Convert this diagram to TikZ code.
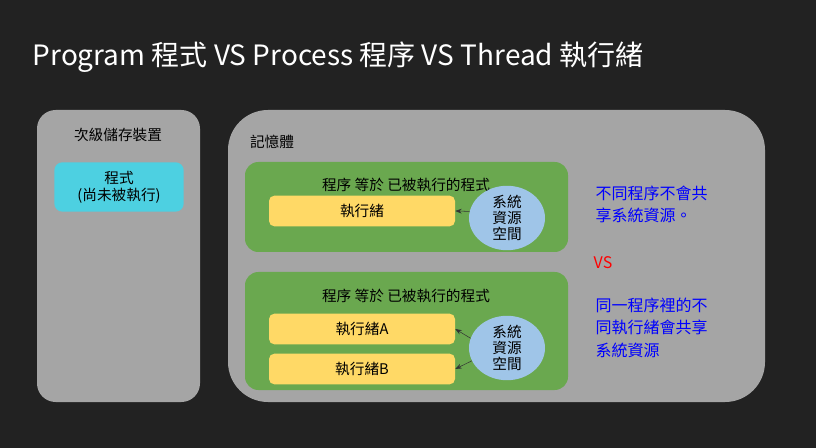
\documentclass[tikz,border=0pt]{standalone}
\usepackage{fontspec}
\setmainfont{Noto Sans CJK TC}
\usetikzlibrary{arrows.meta,shapes.geometric}
\definecolor{bgdark}{HTML}{222222}
\definecolor{panelgray}{HTML}{A5A5A5}
\definecolor{procgreen}{HTML}{6AA84F}
\definecolor{threadyellow}{HTML}{FFD966}
\definecolor{progcyan}{HTML}{4DD0E1}
\definecolor{resblue}{HTML}{9FC5E8}
\tikzset{
  panel/.style={fill=panelgray,rounded corners=14pt},
  procbox/.style={fill=procgreen,rounded corners=10pt},
  thread/.style={rectangle,fill=threadyellow,rounded corners=4pt,minimum width=139.5pt,minimum height=23pt,font=\fontsize{11}{13}\selectfont},
  res/.style={ellipse,fill=resblue,minimum width=57pt,minimum height=39pt,inner sep=0pt,align=center,font=\fontsize{11}{12}\selectfont},
  lbl/.style={font=\fontsize{11}{13}\selectfont},
  note/.style={text=blue,align=left,anchor=north west,font=\fontsize{12}{17}\selectfont},
  arrow/.style={-Stealth,black!80,thin}
}
\begin{document}
\begin{tikzpicture}[x=0.75pt,y=-0.75pt]
    \fill[bgdark] (0,0) rectangle (816,448);
    \useasboundingbox (0,0) rectangle (816,448);
    \node[anchor=west,text=white,font=\fontsize{21}{24}\selectfont] (title) at (28,57) {Program 程式 VS Process 程序 VS Thread 執行緒};

    % secondary storage
    \fill[panel] (37,110) rectangle (200,402);
    \node[lbl] (storage) at (118,135) {次級儲存裝置};
    \node[fill=progcyan,rounded corners=6pt,minimum width=97pt,minimum height=37pt,align=center,lbl] (program) at (119,187) {程式\\(尚未被執行)};

    % memory
    \fill[panel,rounded corners=30pt] (228,110) rectangle (765,402);
    \node[lbl] (memory) at (272,142) {記憶體};

    \fill[procgreen,rounded corners=10pt] (245,162) rectangle (568,252);
    \node[lbl] (procA) at (406,185) {程序 等於 已被執行的程式};
    \node[thread] (thr) at (362,211) {執行緒};
    \node[res] (resA) at (507,218) {系統\\資源\\空間};
    \draw[arrow] (resA.170) -- (thr.east);

    \fill[procgreen,rounded corners=10pt] (245,272) rectangle (568,390);
    \node[lbl] (procB) at (406,296) {程序 等於 已被執行的程式};
    \node[thread] (thrA) at (362,329) {執行緒A};
    \node[thread] (thrB) at (362,369) {執行緒B};
    \node[res] (resB) at (507,348) {系統\\資源\\空間};
    \draw[arrow] (resB.165) -- (thrA.east);
    \draw[arrow] (resB.200) -- (thrB.east);

    % notes
    \node[note] (noteA) at (591,181) {不同程序不會共\\享系統資源。};
    \node[text=red,font=\fontsize{12}{14}\selectfont] (vs) at (603,263) {VS};
    \node[note] (noteB) at (591,293) {同一程序裡的不\\同執行緒會共享\\系統資源};
\end{tikzpicture}
\end{document}
